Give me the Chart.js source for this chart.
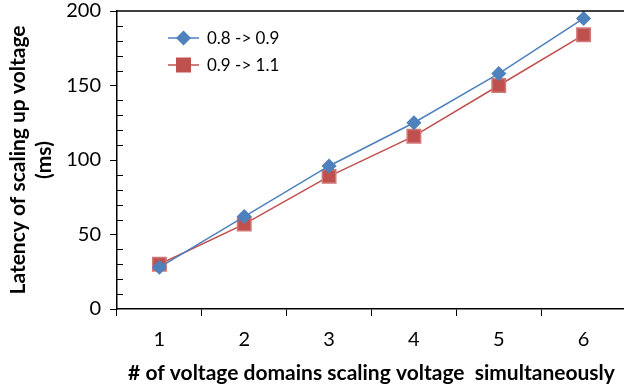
<!DOCTYPE html>
<html>
<head>
<meta charset="utf-8">
<script src="https://cdn.jsdelivr.net/npm/chart.js@4.4.1/dist/chart.umd.min.js"></script>
<style>
  html, body { margin: 0; padding: 0; background: #fff; overflow: hidden; }
  #wrap { width: 624px; height: 391px; overflow: hidden; }
</style>
</head>
<body>
<div id="wrap"><canvas id="chart" width="637" height="391"></canvas></div>
<script>
const categories = ["1", "2", "3", "4", "5", "6"];
const series1Label = "0.8 -> 0.9";
const series1 = [28, 62, 96, 125, 158, 195];
const series2Label = "0.9 -> 1.1";
const series2 = [30, 57, 89, 116, 150, 184];
const yMin = 0;
const yMax = 200;
const yMajor = 50;
const yMinor = 10;

const BLUE = "#4f81bd";
const RED = "#c0504d";
const FONT = "Lato";

// top border, inward minor ticks, legend inside plot
const decorPlugin = {
  id: "decor",
  afterDraw(chart) {
    const ctx = chart.ctx;
    const area = chart.chartArea;
    const y = chart.scales.y;
    ctx.save();
    ctx.strokeStyle = "#000";
    ctx.lineWidth = 1.5;
    ctx.beginPath();
    ctx.moveTo(area.left, area.top);
    ctx.lineTo(area.right, area.top);
    ctx.stroke();

    ctx.lineWidth = 1;
    for (let v = yMin + yMinor; v < yMax; v += yMinor) {
      if (v % yMajor === 0) continue;
      const py = Math.round(y.getPixelForValue(v)) + 0.5;
      ctx.beginPath();
      ctx.moveTo(area.left, py);
      ctx.lineTo(area.left + 6, py);
      ctx.stroke();
    }

    // legend
    const rows = [{ y: 38 }, { y: 65 }];
    chart.data.datasets.forEach((ds, i) => {
      const ry = rows[i].y;
      ctx.strokeStyle = ds.borderColor;
      ctx.lineWidth = 1.5;
      ctx.beginPath();
      ctx.moveTo(168, ry);
      ctx.lineTo(199, ry);
      ctx.stroke();
      Chart.helpers.drawPoint(ctx, {
        pointStyle: ds.pointStyle,
        radius: ds.pointRadius,
        borderWidth: 1
      }, 183.5, ry);
      ctx.fillStyle = ds.pointBackgroundColor;
      ctx.strokeStyle = ds.pointBorderColor;
      ctx.fill();
      ctx.fillStyle = "#000";
      ctx.font = "17px " + FONT;
      ctx.textBaseline = "middle";
      ctx.fillText(ds.label, 207, ry + 1);
    });
    ctx.restore();
  }
};

new Chart(document.getElementById("chart"), {
  type: "line",
  data: {
    labels: categories,
    datasets: [
      {
        label: series1Label,
        data: series1,
        borderColor: BLUE,
        backgroundColor: BLUE,
        pointBackgroundColor: BLUE,
        pointBorderColor: BLUE,
        pointStyle: "rectRot",
        pointRadius: 6.5,
        borderWidth: 1.5
      },
      {
        label: series2Label,
        data: series2,
        borderColor: RED,
        backgroundColor: RED,
        pointBackgroundColor: RED,
        pointBorderColor: "#d07a78",
        pointStyle: "rect",
        pointRadius: 9.5,
        borderWidth: 1.5
      }
    ]
  },
  options: {
    responsive: false,
    animation: false,
    layout: { padding: { top: 11, right: 0 } },
    plugins: {
      legend: { display: false },
      tooltip: { enabled: false }
    },
    scales: {
      x: {
        type: "category",
        offset: true,
        afterFit: (s) => { s.height = 82; },
        grid: {
          offset: true,
          drawOnChartArea: false,
          tickLength: 7,
          color: "#000",
          lineWidth: 1
        },
        border: { color: "#000", width: 1.5 },
        ticks: {
          color: "#000",
          font: { family: FONT, size: 20 },
          padding: 12
        },
        title: {
          display: true,
          text: "# of voltage domains scaling voltage  simultaneously",
          color: "#000",
          font: { family: FONT, size: 21, weight: "bold" },
          padding: { top: 0, bottom: 5 }
        }
      },
      y: {
        min: yMin,
        max: yMax,
        afterFit: (s) => { s.width = 117; s.paddingTop = 0; },
        grid: {
          drawOnChartArea: false,
          tickLength: 7,
          color: (c) => (c.tick && c.tick.value % yMajor === 0 ? "#000" : "rgba(0,0,0,0)"),
          lineWidth: 1
        },
        border: { color: "#000", width: 1.5 },
        ticks: {
          stepSize: yMinor,
          autoSkip: false,
          color: "#000",
          font: { family: FONT, size: 20 },
          padding: 9,
          callback: (v) => (v % yMajor === 0 ? v : "")
        },
        title: {
          display: true,
          text: ["Latency of scaling up voltage", "(ms)"],
          color: "#000",
          font: { family: FONT, size: 21, weight: "bold", lineHeight: 1.2 },
          padding: { top: 6, bottom: 0 }
        }
      }
    }
  },
  plugins: [decorPlugin]
});
</script>
</body>
</html>
